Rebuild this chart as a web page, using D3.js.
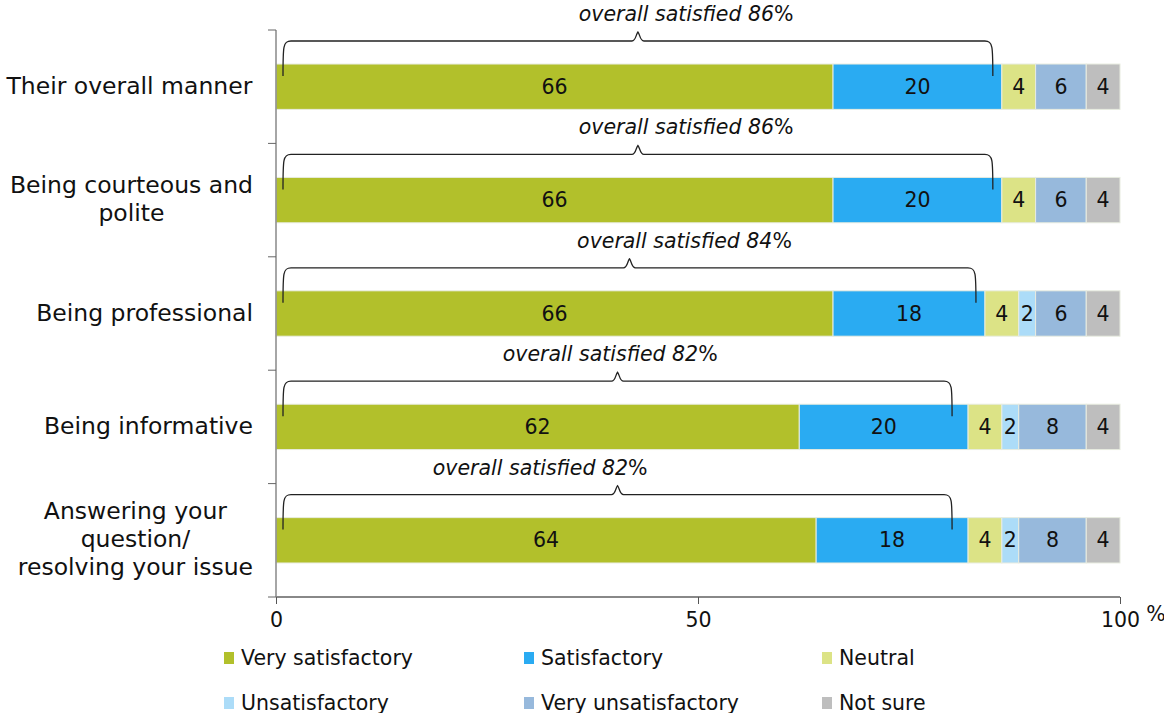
<!DOCTYPE html>
<html><head><meta charset="utf-8">
<script src="https://cdn.jsdelivr.net/npm/d3@7"></script>
<style>body{margin:0;background:#fff}svg{display:block;font-family:"DejaVu Sans",Verdana,sans-serif}</style>
</head><body><svg id="c" width="1164" height="713"></svg>
<script>
const categories = ["Their overall manner","Being courteous and|polite","Being professional","Being informative","Answering your|question/|resolving your issue"];
const seriesNames = ["Very satisfactory","Satisfactory","Neutral","Unsatisfactory","Very unsatisfactory","Not sure"];
const seriesColors = ["#b2c02b","#2aabf2","#dce386","#acdcf8","#97b9dc","#bebebe"];
const verySatisfactory = [66,66,66,62,64];
const satisfactory = [20,20,18,20,18];
const neutral = [4,4,4,4,4];
const unsatisfactory = [0,0,2,2,2];
const veryUnsatisfactory = [6,6,6,8,8];
const notSure = [4,4,4,4,4];
const overallSatisfied = [86,86,84,82,82];
const overallLabelCenter = [48.6,48.6,48.4,39.6,31.3];
const xTicks = [0,50,100];

const svg = d3.select("#c");
const x = d3.scaleLinear().domain([0,100]).range([276,1120]);
const y = d3.scaleBand().domain(d3.range(categories.length)).range([30,597]).paddingInner(0.6).paddingOuter(0.3);
const series = [verySatisfactory,satisfactory,neutral,unsatisfactory,veryUnsatisfactory,notSure];
const FS = 20.5;

// bars
categories.forEach((c,i)=>{
  let acc = 0;
  series.forEach((s,k)=>{
    const v = s[i];
    if(v>0){
      svg.append("rect").attr("x",x(acc)).attr("y",y(i)).attr("width",x(acc+v)-x(acc)).attr("height",y.bandwidth())
        .attr("fill",seriesColors[k]).attr("stroke","#e8ece0").attr("stroke-width",1);
      svg.append("text").attr("x",(x(acc)+x(acc+v))/2).attr("y",y(i)+y.bandwidth()/2+7)
        .attr("text-anchor","middle").attr("font-size",FS).attr("fill","#111").text(v);
    }
    acc += v;
  });
});

// axes
const gx = svg.append("g").attr("transform","translate(0,597)").call(d3.axisBottom(x).tickValues(xTicks).tickSize(7).tickPadding(8));
gx.select(".domain").attr("stroke","#888").attr("stroke-width",2).attr("d","M276,0H1120");
gx.selectAll(".tick line").attr("stroke","#555");
gx.selectAll(".tick text").attr("font-size",FS).attr("fill","#111").attr("font-family","DejaVu Sans");
svg.append("text").attr("x",1156).attr("y",621).attr("text-anchor","middle").attr("font-size",FS).attr("fill","#111").text("%");

const bandStep = (597-30)/categories.length;
svg.append("line").attr("x1",276).attr("x2",276).attr("y1",30).attr("y2",597).attr("stroke","#888").attr("stroke-width",1.5);
d3.range(categories.length+1).forEach(j=>{
  svg.append("line").attr("x1",268).attr("x2",276).attr("y1",30+j*bandStep).attr("y2",30+j*bandStep).attr("stroke","#666");
});

// category labels
categories.forEach((c,i)=>{
  const lines = c.split("|");
  const cy = y(i)+y.bandwidth()/2;
  const t = svg.append("text").attr("font-size",23.5).attr("fill","#111").attr("text-anchor","middle");
  lines.forEach((l,j)=>{
    t.append("tspan").attr("x",0).attr("y",cy+7+(j-(lines.length-1)/2)*28).text(l);
  });
  const w = t.node().getBBox().width;
  t.selectAll("tspan").attr("x",253-w/2);
});

// braces
categories.forEach((c,i)=>{
  const x0 = x(0)+7, x1 = x(overallSatisfied[i])-(overallSatisfied[i]<84?16:9);
  const top = y(i);
  const hy = top-23, tipY = top-32, bot = top+12;
  const mid = (x0+x1)/2;
  const r = 6;
  const p = `M${x0},${bot} C${x0},${hy+5} ${x0},${hy} ${x0+r+2},${hy} L${mid-6},${hy} C${mid-2},${hy} ${mid-2},${tipY+2} ${mid},${tipY} C${mid+2},${tipY+2} ${mid+2},${hy} ${mid+6},${hy} L${x1-r-2},${hy} C${x1},${hy} ${x1},${hy+5} ${x1},${bot}`;
  svg.append("path").attr("d",p).attr("fill","none").attr("stroke","#222").attr("stroke-width",1.3);
  const t = svg.append("text").attr("x",x(overallLabelCenter[i])).attr("y",top-43).attr("text-anchor","middle").attr("font-size",FS).attr("fill","#111");
  t.append("tspan").attr("font-style","italic").text("overall satisfied "+overallSatisfied[i]);
  t.append("tspan").text("%");
});

// legend
const legCols = [224,524,822], legRows = [658,703];
seriesNames.forEach((n,k)=>{
  const lx = legCols[k%3], ly = legRows[Math.floor(k/3)];
  svg.append("rect").attr("x",lx).attr("y",ly-6).attr("width",10).attr("height",12).attr("fill",seriesColors[k]);
  svg.append("text").attr("x",lx+17).attr("y",ly+7).attr("font-size",FS).attr("fill","#111").text(n);
});
</script></body></html>
